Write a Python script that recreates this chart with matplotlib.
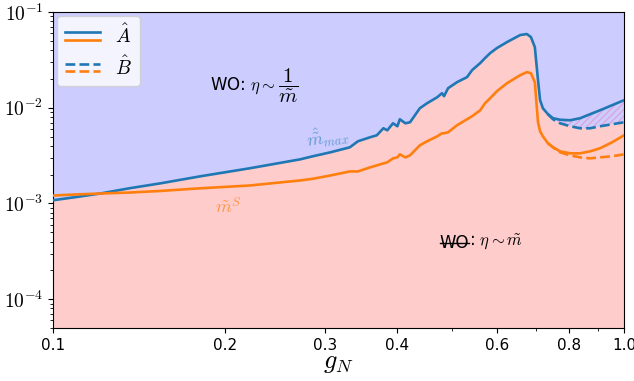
import numpy as np
import matplotlib
matplotlib.use("Agg")
import matplotlib.pyplot as plt
from matplotlib.lines import Line2D
from matplotlib.legend_handler import HandlerBase
from matplotlib.ticker import FixedLocator, FuncFormatter, NullFormatter

plt.rcParams['mathtext.fontset'] = 'cm'

# coupling grid
g_N = [0.100, 0.109, 0.121, 0.136, 0.154, 0.181, 0.221, 0.271, 0.285, 0.306,
       0.331, 0.342, 0.359, 0.369, 0.379, 0.385, 0.394, 0.401, 0.405, 0.414,
       0.422, 0.439, 0.452, 0.471, 0.480, 0.484, 0.492, 0.510, 0.531, 0.542,
       0.560, 0.571, 0.583, 0.599, 0.624, 0.658, 0.676, 0.687, 0.698, 0.707,
       0.713, 0.721, 0.736, 0.751, 0.773, 0.805, 0.838, 0.872, 0.908, 0.953, 1.000]

# case A: max mass and S-mass
m_max_A = [0.00108, 0.00116, 0.00127, 0.00144, 0.00162, 0.00192, 0.00233, 0.00289, 0.00311, 0.00342,
           0.00386, 0.00446, 0.00491, 0.00515, 0.00610, 0.00581, 0.00688, 0.00640, 0.00758, 0.00688,
           0.00705, 0.00988, 0.01114, 0.01288, 0.01418, 0.01320, 0.01600, 0.01849, 0.02086, 0.02470,
           0.02924, 0.03299, 0.03721, 0.04198, 0.04852, 0.05743, 0.05885, 0.05473, 0.04300, 0.01941,
           0.01198, 0.00988, 0.00855, 0.00777, 0.00749, 0.00740, 0.00777, 0.00855, 0.00941, 0.01062, 0.01198]
m_S_A = [0.00121, 0.00124, 0.00127, 0.00130, 0.00135, 0.00144, 0.00154, 0.00174, 0.00181, 0.00196,
         0.00216, 0.00216, 0.00238, 0.00250, 0.00262, 0.00269, 0.00296, 0.00303, 0.00326, 0.00303,
         0.00318, 0.00405, 0.00446, 0.00503, 0.00541, 0.00541, 0.00554, 0.00656, 0.00758, 0.00815,
         0.00941, 0.01114, 0.01258, 0.01489, 0.01805, 0.02189, 0.02353, 0.02297, 0.01849, 0.00705,
         0.00567, 0.00503, 0.00425, 0.00386, 0.00350, 0.00334, 0.00334, 0.00350, 0.00377, 0.00435, 0.00515]

# case B only differs at large coupling
g_N_B = [0.736, 0.751, 0.773, 0.805, 0.838, 0.872, 0.908, 0.953, 1.000]
m_max_B = [0.00855, 0.00758, 0.00688, 0.00640, 0.00610, 0.00610, 0.00640, 0.00672, 0.00705]
m_S_B = [0.00425, 0.00386, 0.00342, 0.00318, 0.00303, 0.00296, 0.00303, 0.00311, 0.00326]

xticks = [0.1, 0.2, 0.3, 0.4, 0.6, 0.8, 1.0]
xticks_minor = [0.5, 0.7, 0.9]
yticks = [1e-4, 1e-3, 1e-2, 1e-1]

c_blue = '#1f77b4'
c_orange = '#ff7f0e'


class StackedLines(HandlerBase):
    # draw the tuple of lines one above the other in the legend
    def create_artists(self, legend, orig_handle, xdescent, ydescent,
                       width, height, fontsize, trans):
        out = []
        for i, h in enumerate(orig_handle):
            y = -ydescent + height * (0.78 - 0.52 * i)
            l = Line2D([-xdescent, -xdescent + width], [y, y],
                       color=h.get_color(), linestyle=h.get_linestyle(),
                       linewidth=h.get_linewidth())
            l.set_transform(trans)
            out.append(l)
        return out


g = np.array(g_N)
mA = np.array(m_max_A)
gB = np.array(g_N_B)
mB = np.array(m_max_B)
mB_full = mA.copy()
tail = np.searchsorted(g, gB[0])
mB_full[tail:] = mB
lower = np.minimum(mA, mB_full)

fig = plt.figure(figsize=(6.34, 3.81), dpi=100)
ax = fig.add_axes([0.0836, 0.1391, 0.9006, 0.8294])
ax.set_facecolor('#ccccff')
ax.set_xscale('log')
ax.set_yscale('log')

ax.fill_between(g, 1e-6, lower, color='#ffcccc', linewidth=0, zorder=1)
ax.fill_between(gB, mB, mA[tail:], facecolor='none', edgecolor='#dda6d8',
                hatch='/////', linewidth=0, zorder=1)

lw = 1.9
la1, = ax.plot(g_N, m_max_A, color=c_blue, lw=lw, zorder=3)
la2, = ax.plot(g_N, m_S_A, color=c_orange, lw=lw, zorder=3)
lb1, = ax.plot(g_N_B, m_max_B, color=c_blue, lw=lw, ls='--', zorder=3)
lb2, = ax.plot(g_N_B, m_S_B, color=c_orange, lw=lw, ls='--', zorder=3)

ax.set_xlim(0.1, 1.0)
ax.set_ylim(5e-5, 1e-1)

ax.xaxis.set_major_locator(FixedLocator(xticks))
ax.xaxis.set_minor_locator(FixedLocator(xticks_minor))
ax.xaxis.set_major_formatter(FuncFormatter(lambda v, p: '%.1f' % v))
ax.xaxis.set_minor_formatter(NullFormatter())
ax.yaxis.set_major_locator(FixedLocator(yticks))
ax.yaxis.set_major_formatter(FuncFormatter(lambda v, p: r'$10^{%d}$' % round(np.log10(v))))
ax.tick_params(axis='x', labelsize=11)
ax.tick_params(axis='y', labelsize=14)
ax.set_xlabel(r'$g_N$', fontsize=19, labelpad=-3)

ax.legend([(la1, la2), (lb1, lb2)], [r'$\hat{A}$', r'$\hat{B}$'],
          handler_map={tuple: StackedLines()}, loc='upper left',
          fontsize=14, handlelength=1.8, handleheight=0.8, labelspacing=0.4,
          handletextpad=0.8, borderaxespad=0.2)

t_up = ax.text(0.1883, 0.0168, r'WO: $\eta \sim$', fontsize=12,
               va='center', ha='left', zorder=4)
ax.annotate(r'$\dfrac{1}{\tilde{m}}$', xy=(1, 0.5), xycoords=t_up,
            xytext=(2, 0), textcoords='offset points',
            va='center', ha='left', fontsize=15, zorder=4)
ax.text(0.2763, 0.00491, r'$\hat{\tilde{m}}_{max}$', fontsize=13, color=c_blue,
        alpha=0.6, rotation=8, va='center', ha='left', zorder=4)
ax.text(0.1922, 0.00091, r'$\tilde{m}^S$', fontsize=13, color=c_orange,
        alpha=0.7, va='center', ha='left', zorder=4)

# struck-out "WO" in the lower region
t_wo = ax.text(0.476, 0.00039, 'WO', fontsize=12, va='center', ha='left', zorder=4)
ax.annotate(r': $\eta \sim \tilde{m}$', xy=(1, 0.5), xycoords=t_wo,
            va='center', ha='left', fontsize=12, zorder=4)
fig.canvas.draw()
bb = t_wo.get_window_extent()
inv = fig.transFigure.inverted()
(x0, ym), (x1, _) = inv.transform([(bb.x0, (bb.y0 + bb.y1) / 2), (bb.x1, 0)])
fig.add_artist(Line2D([x0, x1], [ym, ym], color='black', lw=1.0))

fig.savefig('out.png', dpi=100)
